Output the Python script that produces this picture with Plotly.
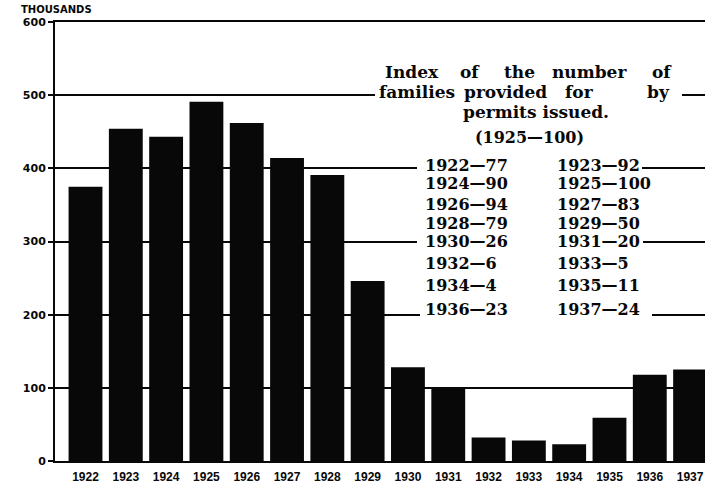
import plotly.graph_objects as go

# ---- data ----
years = ["1922", "1923", "1924", "1925", "1926", "1927", "1928", "1929",
         "1930", "1931", "1932", "1933", "1934", "1935", "1936", "1937"]
families_thousands = [375, 454, 443, 491, 462, 414, 391, 246,
                      128, 99, 32, 28, 23, 59, 118, 125]
index_years = [1922, 1923, 1924, 1925, 1926, 1927, 1928, 1929,
               1930, 1931, 1932, 1933, 1934, 1935, 1936, 1937]
index_values = [77, 92, 90, 100, 94, 83, 79, 50, 26, 20, 6, 5, 4, 11, 23, 24]
y_ticks = [0, 100, 200, 300, 400, 500, 600]
y_tick_labels = ["0", "100", "200", "300", "400", "500", "600"]
title_line1 = ["Index", "of", "the", "number", "of"]
title_line2 = ["families", "provided", "for", "by"]
title_line3 = "permits issued."
title_line4 = "(1925\u2014100)"
unit_label = "THOUSANDS"

# ---- layout geometry (page body margin removed below) ----
W, H = 705, 499
# plot area in screen pixels: x 55 -> 705, y 22 -> 461
SX0, SX1, SY0, SY1 = 55, 705, 22, 461
L, T = SX0, SY0
R = W - SX1
B = H - SY1


def px_x(px):
    return (px - SX0) / (SX1 - SX0)


def px_y(py):
    return (SY1 - py) / (SY1 - SY0)


INK = "#080808"
SERIF = "DejaVu Serif"

fig = go.Figure()
fig.add_trace(go.Bar(
    x=years, y=families_thousands,
    marker=dict(color=INK, line=dict(width=0)),
    width=0.84,
    hoverinfo="skip",
))

annotations = []

# unit label
annotations.append(dict(
    text="<b>" + unit_label + "</b>", xref="paper", yref="paper",
    x=px_x(19), y=px_y(2), xanchor="left", yanchor="top", showarrow=False,
    font=dict(family="DejaVu Sans", size=10, color=INK)))

# title words (justified lines)
line1_x = [383, 458, 502, 550, 650]
line2_x = [377, 462, 563, 645]
for w, x in zip(title_line1, line1_x):
    annotations.append(dict(
        text="<b>" + w + "</b>", xref="paper", yref="paper",
        x=px_x(x), y=px_y(72), xanchor="left", yanchor="middle",
        showarrow=False, font=dict(family=SERIF, size=17, color=INK)))
for w, x in zip(title_line2, line2_x):
    annotations.append(dict(
        text="<b>" + w + "</b>", xref="paper", yref="paper",
        x=px_x(x), y=px_y(92), xanchor="left", yanchor="middle",
        showarrow=False, font=dict(family=SERIF, size=17, color=INK)))
annotations.append(dict(
    text="<b>" + title_line3 + "</b>", xref="paper", yref="paper",
    x=px_x(536), y=px_y(112), xanchor="center", yanchor="middle",
    showarrow=False, font=dict(family=SERIF, size=17, color=INK)))
annotations.append(dict(
    text="<b>" + title_line4 + "</b>", xref="paper", yref="paper",
    x=px_x(529), y=px_y(137), xanchor="center", yanchor="middle",
    showarrow=False, font=dict(family=SERIF, size=16, color=INK)))

# index table (two columns)
row_y = [165, 184, 204, 223, 242, 263, 285, 309]
for i, (yr, v) in enumerate(zip(index_years, index_values)):
    row, col = divmod(i, 2)
    x = 423 if col == 0 else 555
    annotations.append(dict(
        text="<b>%d\u2014%d</b>" % (yr, v), xref="paper", yref="paper",
        x=px_x(x), y=px_y(row_y[row]), xanchor="left", yanchor="middle",
        showarrow=False, font=dict(family=SERIF, size=16, color=INK)))

# white masks breaking gridlines behind the text block
shapes = []
for x0, x1, gv in [(375, 682, 500), (417, 642, 400), (417, 643, 300), (420, 652, 200)]:
    shapes.append(dict(type="rect", xref="paper", yref="y",
                       x0=px_x(x0), x1=px_x(x1), y0=gv - 6, y1=gv + 6,
                       fillcolor="white", line=dict(width=0), layer="above"))

fig.update_layout(
    width=W, height=H,
    margin=dict(l=L, r=R, t=T, b=B, pad=0, autoexpand=False),
    paper_bgcolor="white", plot_bgcolor="white",
    showlegend=False,
    annotations=annotations, shapes=shapes,
    xaxis=dict(
        type="category", range=[-0.757, 15.37],
        showline=True, linecolor=INK, linewidth=2, mirror=True,
        showgrid=False, ticks="", automargin=False, ticklabelstandoff=4,
        tickfont=dict(family="Liberation Sans", size=12, color=INK, weight="bold"),
        fixedrange=True,
    ),
    yaxis=dict(
        range=[0, 600], tickvals=y_ticks, ticktext=y_tick_labels,
        showline=True, linecolor=INK, linewidth=2, automargin=False,
        showgrid=True, gridcolor=INK, gridwidth=2, zeroline=False,
        ticks="outside", ticklen=5, tickwidth=2, tickcolor=INK,
        tickfont=dict(family="DejaVu Sans", size=11, color=INK, weight="bold"),
        fixedrange=True,
    ),
)

fig.write_html(
    "out.html",
    config={"displayModeBar": False},
    post_script="document.body.style.margin='0';document.body.style.overflow='hidden';",
)
